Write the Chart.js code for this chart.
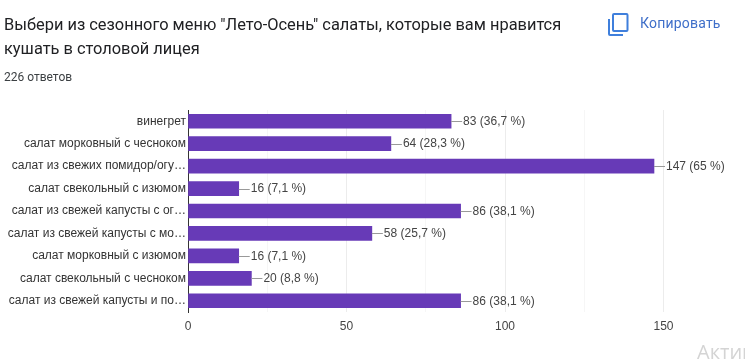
<!DOCTYPE html>
<html>
<head>
<meta charset="utf-8">
<script src="https://cdn.jsdelivr.net/npm/chart.js@4"></script>
<style>
  html, body { margin: 0; padding: 0; background: #fff; overflow: hidden; }
  #page { position: relative; width: 745px; height: 359px; overflow: hidden; }
  #page div { position: absolute; white-space: nowrap; }
  #chart { position: absolute; left: 0; top: 0; }
  .title { left: 4px; font: 16.4px Roboto, sans-serif; color: #202124; }
  #count { left: 4px; top: 70px; font: 12px Roboto, sans-serif; color: #3c4043; }
  #copy { left: 640px; top: 15px; font: 14px Roboto, sans-serif; letter-spacing: 0.2px; color: #3f6fc9; }
  #icon { position: absolute; left: 607px; top: 12px; }
  #watermark { left: 697px; top: 338px; font: 20px "Open Sans", sans-serif; color: #d4d4d4; }
</style>
</head>
<body>
<div id="page">
  <canvas id="chart" width="745" height="359"></canvas>
  <div class="title" style="top:15px">Выбери из сезонного меню "Лето-Осень" салаты, которые вам нравится</div>
  <div class="title" style="top:39px">кушать в столовой лицея</div>
  <div id="count">226 ответов</div>
  <svg id="icon" width="24" height="24" viewBox="0 0 24 24">
    <path fill="none" stroke="#3f7fdc" stroke-width="2" d="M7 2h12.5a1 1 0 0 1 1 1v15a1 1 0 0 1-1 1H7a1 1 0 0 1-1-1V3a1 1 0 0 1 1-1z"/>
    <path fill="none" stroke="#3f7fdc" stroke-width="2" d="M2 7v15a1 1 0 0 0 1 1h13"/>
  </svg>
  <div id="copy">Копировать</div>
  <div id="watermark">Актив</div>
</div>
<script>
const categories = [
  'винегрет',
  'салат морковный с чесноком',
  'салат из свежих помидор/огу…',
  'салат свекольный с изюмом',
  'салат из свежей капусты с ог…',
  'салат из свежей капусты с мо…',
  'салат морковный с изюмом',
  'салат свекольный с чесноком',
  'салат из свежей капусты и по…'
];
const votes = [83, 64, 147, 16, 86, 58, 16, 20, 86];
const percents = ['36,7', '28,3', '65', '7,1', '38,1', '25,7', '7,1', '8,8', '38,1'];
const xTicks = [0, 25, 50, 75, 100, 125, 150];

// leader line + "83 (36,7 %)" after each bar
const barLabels = {
  id: 'barLabels',
  afterDatasetsDraw(chart) {
    const ctx = chart.ctx;
    const xs = chart.scales.x;
    const ys = chart.scales.y;
    ctx.save();
    ctx.font = '12px "Liberation Sans", Arial, sans-serif';
    ctx.textBaseline = 'middle';
    votes.forEach((v, i) => {
      const x = xs.getPixelForValue(v);
      const y = ys.getPixelForValue(i);
      ctx.strokeStyle = '#999';
      ctx.lineWidth = 1;
      ctx.beginPath();
      ctx.moveTo(x, Math.round(y) + 0.5);
      ctx.lineTo(x + 11, Math.round(y) + 0.5);
      ctx.stroke();
      ctx.fillStyle = '#444';
      ctx.fillText(`${v} (${percents[i]} %)`, x + 12, y + 0.5);
    });
    ctx.restore();
  }
};

new Chart(document.getElementById('chart'), {
  type: 'bar',
  data: {
    labels: categories,
    datasets: [{
      data: votes,
      backgroundColor: '#673ab7',
      barThickness: 14
    }]
  },
  options: {
    indexAxis: 'y',
    responsive: false,
    animation: false,
    layout: { padding: { top: 110, right: 81.5, left: 0, bottom: 0 } },
    plugins: {
      legend: { display: false },
      title: { display: false },
      tooltip: { enabled: false }
    },
    scales: {
      x: {
        min: 0,
        max: 150,
        afterBuildTicks: scale => { scale.ticks = xTicks.map(value => ({ value })); },
        afterFit: scale => { scale.height = 47; },
        grid: {
          drawTicks: false,
          color: ctx => (ctx.tick && ctx.tick.value % 50 === 0 ? '#ececec' : '#f6f6f6')
        },
        border: { display: false },
        ticks: {
          autoSkip: false,
          maxRotation: 0,
          padding: 7,
          color: '#444',
          font: { family: '"Liberation Sans", Arial, sans-serif', size: 12 },
          callback: value => (value % 50 === 0 ? value : '')
        }
      },
      y: {
        afterFit: scale => { scale.width = 188; },
        grid: { display: false, drawTicks: false },
        border: { color: '#333', width: 1 },
        ticks: {
          autoSkip: false,
          padding: 2,
          color: '#333',
          font: { family: '"Liberation Sans", Arial, sans-serif', size: 12 }
        }
      }
    }
  },
  plugins: [barLabels]
});
</script>
</body>
</html>
